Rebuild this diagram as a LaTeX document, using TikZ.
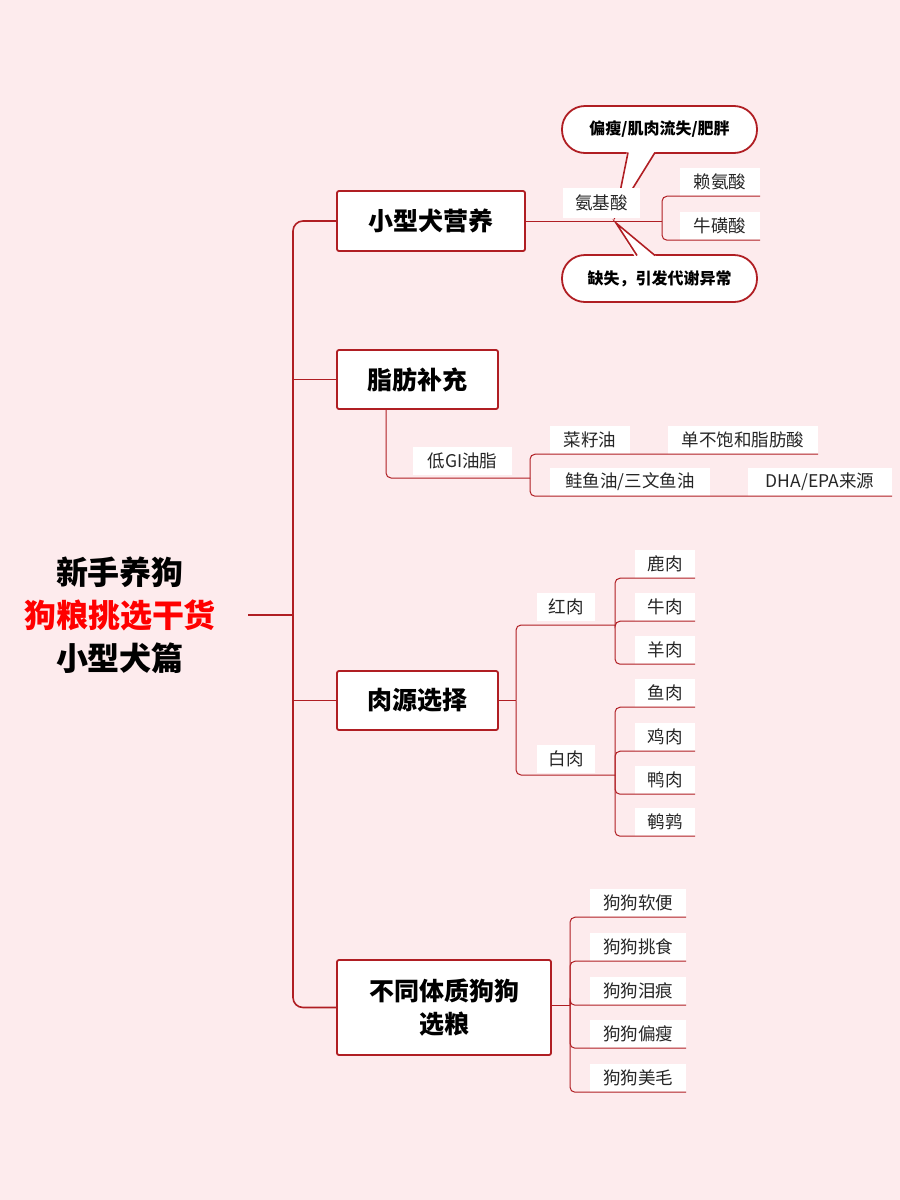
\documentclass[tikz,border=0pt]{standalone}
\usepackage{fontspec}
\setmainfont{Noto Sans CJK SC}
\begin{document}
\begin{tikzpicture}[x=1pt,y=-1pt,
  ln/.style={draw=lred,line width=1.6pt},
  ln2/.style={draw=lred,line width=1pt,rounded corners=5pt},
  box/.style={draw=lred,line width=1.8pt,fill=white,rounded corners=2pt,font=\bfseries\fontsize{25}{33}\selectfont,inner sep=0pt,align=center},
  leaf/.style={fill=white,font=\fontsize{17.5}{20}\selectfont,inner sep=0pt,minimum height=28pt,text=black!85},
  call/.style={draw=lred,line width=1.8pt,fill=white,rounded corners=23pt,font=\bfseries\fontsize{16}{18}\selectfont,minimum width=195pt,minimum height=47pt,inner sep=0pt}]
\definecolor{lred}{HTML}{B01E23}
\definecolor{bg}{HTML}{FDEBED}
\fill[bg] (0,0) rectangle (900,1200);
\useasboundingbox (0,0) rectangle (900,1200);
% root
\node[font=\bfseries\fontsize{32}{43}\selectfont,align=center] (root) at (120,615) {新手养狗\\\textcolor{red}{狗粮挑选干货}\\小型犬篇};
\coordinate (t0) at (248,615);
\coordinate (t1) at (293,615);
% boxes
\node[box,minimum width=188pt,minimum height=60pt] (b1) at (431,221) {小型犬营养};
\node[box,minimum width=161pt,minimum height=59pt] (b2) at (417.5,379.5) {脂肪补充};
\node[box,minimum width=161pt,minimum height=59pt] (b3) at (417.5,700.5) {肉源选择};
\node[box,minimum width=214pt,minimum height=95pt] (b4) at (444,1007.5) {不同体质狗狗\\选粮};
\draw[ln] (t0) -- (t1);
\draw[ln,rounded corners=10pt] (b1.west) -| (t1) |- (b4.west);
\draw[ln] (t1 |- b2.west) -- (b2.west);
\draw[ln] (t1 |- b3.west) -- (b3.west);
% callouts
\node[call] (c1) at (659.5,129.5) {偏瘦/肌肉流失/肥胖};
\node[call] (c2) at (659.5,278.5) {缺失，引发代谢异常};
\coordinate (tip1) at (615,217);
\coordinate (tip2) at (616,223);
\fill[white] (627,151) -- (656,151) -- (tip1) -- cycle;
\draw[lred,line width=1.6pt] (628,152.5) -- (tip1) -- (655,152.5);
\fill[white] (635,257) -- (657,257) -- (tip2) -- cycle;
\draw[lred,line width=1.6pt] (637,255.5) -- (tip2) -- (655,255.5);
% b1 children
\node[leaf,minimum width=77pt,minimum height=30pt] (aa) at (601.5,203) {氨基酸};
\node[leaf,minimum width=80pt] (l1) at (720,182) {赖氨酸};
\node[leaf,minimum width=80pt] (l2) at (720,226) {牛磺酸};
\coordinate (k1) at (662,221);
\draw[ln2] (b1.east) -- (k1);
\draw[ln2] (k1) |- (l1.south east);
\draw[ln2] (k1) |- (l2.south east);
% b2 children
\node[leaf,minimum width=99pt] (gi) at (462.5,461) {低GI油脂};
\node[leaf,minimum width=80pt] (cz) at (590,440) {菜籽油};
\node[leaf,minimum width=150pt] (db) at (743,440) {单不饱和脂肪酸};
\node[leaf,minimum width=160pt] (gy) at (630,482) {鲑鱼油/三文鱼油};
\node[leaf,minimum width=144pt] (dha) at (820,482) {DHA/EPA来源};
\coordinate (k2) at (530,478);
\draw[ln2] (b2.south -| 386,0) |- (k2);
\draw[ln2] (k2) |- (db.south east);
\draw[ln2] (k2) |- (dha.south east);
% b3 children
\node[leaf,minimum width=58pt] (hr) at (566,607) {红肉};
\node[leaf,minimum width=58pt] (br) at (566,759) {白肉};
\coordinate (k3) at (516,700.5);
\draw[ln2] (b3.east) -- (k3);
\draw[ln2] (k3) |- (615,625);
\draw[ln2] (k3) |- (615,775);
\node[leaf,minimum width=60pt] (m1) at (665,564) {鹿肉};
\node[leaf,minimum width=60pt] (m2) at (665,607) {牛肉};
\node[leaf,minimum width=60pt] (m3) at (665,650) {羊肉};
\foreach \n in {m1,m2,m3} \draw[ln2] (615,625) |- (\n.south east);
\node[leaf,minimum width=60pt] (w1) at (665,693) {鱼肉};
\node[leaf,minimum width=60pt] (w2) at (665,737) {鸡肉};
\node[leaf,minimum width=60pt] (w3) at (665,780) {鸭肉};
\node[leaf,minimum width=60pt] (w4) at (665,822) {鹌鹑};
\foreach \n in {w1,w2,w3,w4} \draw[ln2] (615,775) |- (\n.south east);
% b4 children
\coordinate (k4) at (570,1005);
\draw[ln2] (b4.east |- k4) -- (k4);
\node[leaf,minimum width=96pt] (d1) at (638,903) {狗狗软便};
\node[leaf,minimum width=96pt] (d2) at (638,947) {狗狗挑食};
\node[leaf,minimum width=96pt] (d3) at (638,991) {狗狗泪痕};
\node[leaf,minimum width=96pt] (d4) at (638,1034) {狗狗偏瘦};
\node[leaf,minimum width=96pt] (d5) at (638,1078) {狗狗美毛};
\foreach \n in {d1,d2,d3,d4,d5} \draw[ln2] (k4) |- (\n.south east);
\end{tikzpicture}
\end{document}
